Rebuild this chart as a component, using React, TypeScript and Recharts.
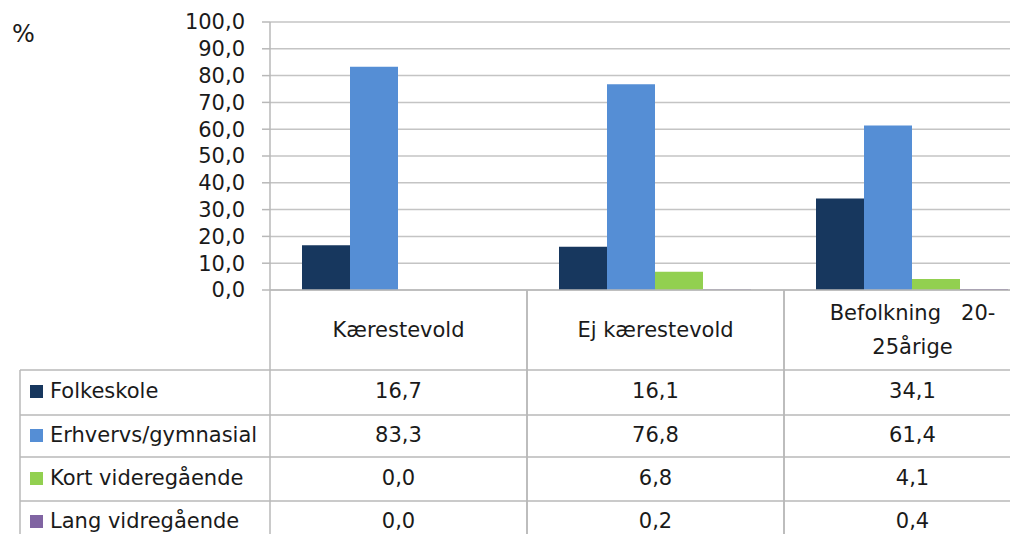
import { BarChart, Bar, XAxis, YAxis, CartesianGrid } from 'recharts';

const categories = ['Kærestevold', 'Ej kærestevold', 'Befolkning   20-\n25årige'];
const seriesNames = ['Folkeskole', 'Erhvervs/gymnasial', 'Kort videregående', 'Lang vidregående'];
const folkeskole = [16.7, 16.1, 34.1];
const erhvervs = [83.3, 76.8, 61.4];
const kortVideregaaende = [0.0, 6.8, 4.1];
const langVideregaaende = [0.0, 0.2, 0.4];
const yTicks = [0, 10, 20, 30, 40, 50, 60, 70, 80, 90, 100];

const seriesKeys = ['folkeskole', 'erhvervs', 'kort', 'lang'];
const seriesValues = [folkeskole, erhvervs, kortVideregaaende, langVideregaaende];
const seriesColors = ['#17375E', '#558ED5', '#92D050', '#8064A2'];

const data = categories.map((name, i) => {
  const row: Record<string, string | number> = { name };
  seriesKeys.forEach((k, s) => (row[k] = seriesValues[s][i]));
  return row;
});

// layout
const CHART_W = 1045;
const CHART_H = 534;
const PLOT_LEFT = 270;
const PLOT_TOP = 22;
const PLOT_BOTTOM = 290;
const RIGHT_MARGIN = 4;
const BAND = (CHART_W - RIGHT_MARGIN - PLOT_LEFT) / categories.length;
const TABLE_LEFT = 20;
const ROW_LINES = [370, 415, 457, 501];
const ROW_TEXT = [391, 435, 478, 521];
const HEADER_Y = 330;

const FONT = '"DejaVu Sans", sans-serif';
const FONT_SIZE = 21;
const TEXT = '#1a1a1a';
const LINE = '#b8b8b8';

const fmt = (v: number) => v.toFixed(1).replace('.', ',');

const TableTick = (props: any) => {
  const { x, payload } = props;
  const index = payload.index ?? props.index ?? 0;
  const left = x - BAND / 2;
  const right = x + BAND / 2;
  const lines = String(payload.value).split('\n');
  return (
    <g fontFamily={FONT} fontSize={FONT_SIZE} fill={TEXT}>
      <line x1={left} y1={PLOT_BOTTOM} x2={left} y2={CHART_H} stroke={LINE} strokeWidth={1.5} />
      <line x1={right} y1={PLOT_BOTTOM} x2={right} y2={CHART_H} stroke={LINE} strokeWidth={1.5} />
      {ROW_LINES.map((ry) => (
        <line key={ry} x1={left} y1={ry} x2={right} y2={ry} stroke={LINE} strokeWidth={1.5} />
      ))}
      {lines.map((ln, i) => (
        <text
          key={i}
          x={x}
          y={HEADER_Y + (i - (lines.length - 1) / 2) * 34}
          textAnchor="middle"
          dominantBaseline="central"
          style={{ whiteSpace: 'pre' }}
        >
          {ln}
        </text>
      ))}
      {seriesValues.map((vals, s) => (
        <text key={s} x={x} y={ROW_TEXT[s]} textAnchor="middle" dominantBaseline="central">
          {fmt(vals[index])}
        </text>
      ))}
      {index === 0 && (
        <g>
          <line x1={TABLE_LEFT} y1={ROW_LINES[0]} x2={TABLE_LEFT} y2={CHART_H} stroke={LINE} strokeWidth={1.5} />
          {ROW_LINES.map((ry) => (
            <line key={ry} x1={TABLE_LEFT} y1={ry} x2={left} y2={ry} stroke={LINE} strokeWidth={1.5} />
          ))}
          {seriesNames.map((n, s) => (
            <g key={n}>
              <rect x={30} y={ROW_TEXT[s] - 6} width={13} height={13} fill={seriesColors[s]} />
              <text x={50} y={ROW_TEXT[s]} dominantBaseline="central">
                {n}
              </text>
            </g>
          ))}
        </g>
      )}
    </g>
  );
};

export default function App() {
  return (
    <div
      style={{
        position: 'absolute',
        left: 0,
        top: 0,
        width: 1010,
        height: 534,
        overflow: 'hidden',
        background: '#fff',
      }}
    >
      <div
        style={{
          position: 'absolute',
          left: 12,
          top: 20,
          fontFamily: FONT,
          fontSize: 24,
          color: TEXT,
        }}
      >
        %
      </div>
      <BarChart
        width={CHART_W}
        height={CHART_H}
        data={data}
        margin={{ top: PLOT_TOP, right: RIGHT_MARGIN, bottom: 0, left: 0 }}
        barCategoryGap={32}
        barGap={0}
      >
        <CartesianGrid vertical={false} stroke="#c4c4c4" strokeWidth={1.5} />
        <XAxis
          dataKey="name"
          height={CHART_H - PLOT_BOTTOM}
          interval={0}
          tickLine={false}
          axisLine={{ stroke: LINE, strokeWidth: 1.5 }}
          tick={<TableTick />}
        />
        <YAxis
          width={PLOT_LEFT}
          domain={[0, 100]}
          ticks={yTicks}
          interval={0}
          tickFormatter={fmt}
          tickSize={8}
          tickMargin={17}
          axisLine={{ stroke: LINE, strokeWidth: 1.5 }}
          tickLine={{ stroke: LINE, strokeWidth: 1.5 }}
          tick={{ fontFamily: FONT, fontSize: FONT_SIZE, fill: TEXT }}
        />
        {seriesKeys.map((k, s) => (
          <Bar key={k} dataKey={k} name={seriesNames[s]} fill={seriesColors[s]} isAnimationActive={false} />
        ))}
      </BarChart>
    </div>
  );
}
